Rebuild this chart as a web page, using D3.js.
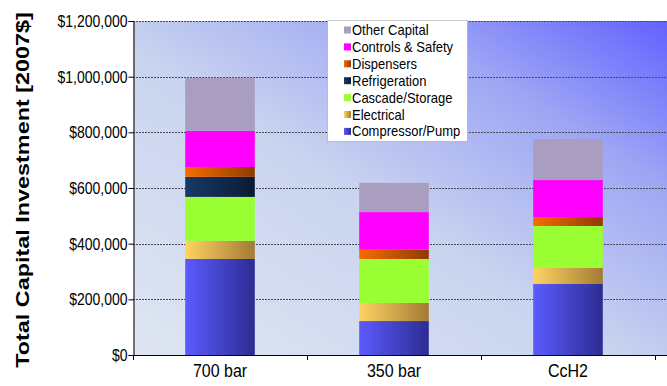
<!DOCTYPE html>
<html><head><meta charset="utf-8">
<script src="https://cdn.jsdelivr.net/npm/d3@7"></script>
<style>body{margin:0;background:#fff}svg{display:block}text{font-family:"Liberation Sans",Arial,sans-serif}</style>
</head><body><svg id="c" width="667" height="386"></svg>
<script>
const categories = ["700 bar", "350 bar", "CcH2"];
const compressorPump = [345000, 122000, 255000];
const electrical = [65000, 65000, 57500];
const cascadeStorage = [158000, 158000, 151000];
const refrigeration = [72000, 0, 0];
const dispensers = [35500, 33000, 32000];
const controlsSafety = [130000, 135500, 133000];
const otherCapital = [190000, 105000, 147000];
const seriesNames = ["Compressor/Pump", "Electrical", "Cascade/Storage", "Refrigeration", "Dispensers", "Controls & Safety", "Other Capital"];
const seriesValues = [compressorPump, electrical, cascadeStorage, refrigeration, dispensers, controlsSafety, otherCapital];
const yTicks = [0, 200000, 400000, 600000, 800000, 1000000, 1200000];
const yTitle = "Total Capital Investment [2007$]";

const colors = [
  ["#5b5bff", "#2c2c92"],
  ["#ffd363", "#a37b34"],
  ["#99ff33", "#99ff33"],
  ["#173a66", "#0a1a33"],
  ["#f76c00", "#8e3b00"],
  ["#ff00ff", "#ff00ff"],
  ["#a99dc0", "#a99dc0"]
];

const svg = d3.select("#c");
const defs = svg.append("defs");
colors.forEach((c, i) => {
  const g = defs.append("linearGradient").attr("id", "g" + i).attr("x1", 0).attr("x2", 1).attr("y1", 0).attr("y2", 0);
  g.append("stop").attr("offset", 0).attr("stop-color", c[0]);
  g.append("stop").attr("offset", 1).attr("stop-color", c[1]);
});
const bg = defs.append("linearGradient").attr("id", "bg").attr("x1", 0).attr("y1", 1).attr("x2", 1).attr("y2", 0);
[[0, "#dfe6f2"], [0.45, "#c9d4ef"], [0.75, "#9ea6f4"], [1, "#6262ff"]].forEach(s => bg.append("stop").attr("offset", s[0]).attr("stop-color", s[1]));

const L = 133, R = 655, T = 21, B = 355;
const x = d3.scaleBand().domain(categories).range([L, R]).paddingInner(0.6).paddingOuter(0.3);
const y = d3.scaleLinear().domain([0, 1200000]).range([B, T]);

svg.append("rect").attr("x", L).attr("y", T).attr("width", 667 - L).attr("height", B - T).attr("fill", "url(#bg)");

// gridlines
svg.append("g").selectAll("line").data(yTicks.filter(d => d > 0)).join("line")
  .attr("x1", L).attr("x2", 667).attr("y1", d => Math.round(y(d)) + 0.5).attr("y2", d => Math.round(y(d)) + 0.5)
  .attr("stroke", "#4a4a5a").attr("stroke-width", 1).attr("stroke-dasharray", "2,1");

// stacked bars
const rows = categories.map((c, i) => { const o = { cat: c }; seriesNames.forEach((s, j) => o[s] = seriesValues[j][i]); return o; });
const stacked = d3.stack().keys(seriesNames)(rows);
svg.append("g").selectAll("g").data(stacked).join("g")
  .attr("fill", (d, i) => "url(#g" + i + ")")
  .selectAll("rect").data(d => d).join("rect")
  .attr("x", d => x(d.data.cat)).attr("width", x.bandwidth())
  .attr("y", d => y(d[1])).attr("height", d => Math.max(0, y(d[0]) - y(d[1])));

// axes
const yAxis = d3.axisLeft(y).tickValues(yTicks).tickSize(5).tickFormat(d => "$" + d3.format(",")(d));
const ya = svg.append("g").attr("transform", `translate(${L + 0.5},0)`).call(yAxis);
ya.select(".domain").attr("stroke", "#000");
ya.selectAll(".tick line").attr("stroke", "#000");
ya.selectAll(".tick text").attr("font-size", 14).attr("fill", "#000").attr("x", -6).attr("dy", null).attr("y", 0)
  .attr("transform", "translate(0,5.5) scale(1,1.15)");

svg.append("line").attr("x1", L).attr("x2", 667).attr("y1", B + 0.5).attr("y2", B + 0.5).attr("stroke", "#000");
const bounds = [L, L + x.step(), L + 2 * x.step(), R];
svg.append("g").selectAll("line").data(bounds).join("line")
  .attr("x1", d => Math.round(d) + 0.5).attr("x2", d => Math.round(d) + 0.5).attr("y1", B).attr("y2", B + 5).attr("stroke", "#000");
svg.append("g").selectAll("text").data(categories).join("text")
  .attr("transform", d => `translate(${x(d) + x.bandwidth() / 2},377) scale(1,1.12)`)
  .attr("text-anchor", "middle").attr("font-size", 16).text(d => d);

// y title
svg.append("text").attr("transform", "translate(29,190) rotate(-90) scale(1.3,1)")
  .attr("text-anchor", "middle").attr("font-size", 18).attr("font-weight", "bold").text(yTitle);

// legend
const lg = svg.append("g");
lg.append("rect").attr("x", 327.5).attr("y", 20.5).attr("width", 140).attr("height", 121).attr("fill", "#fff").attr("stroke", "#999").attr("stroke-dasharray", "1,1");
const legendOrder = seriesNames.map((s, i) => i).reverse();
legendOrder.forEach((si, k) => {
  const cy = 30 + k * 16.9;
  lg.append("rect").attr("x", 344).attr("y", cy - 3.5).attr("width", 7).attr("height", 7).attr("fill", "url(#g" + si + ")");
  lg.append("text").attr("transform", `translate(352,${cy + 5}) scale(1,1.15)`).attr("font-size", 13).text(seriesNames[si]);
});
</script></body></html>
